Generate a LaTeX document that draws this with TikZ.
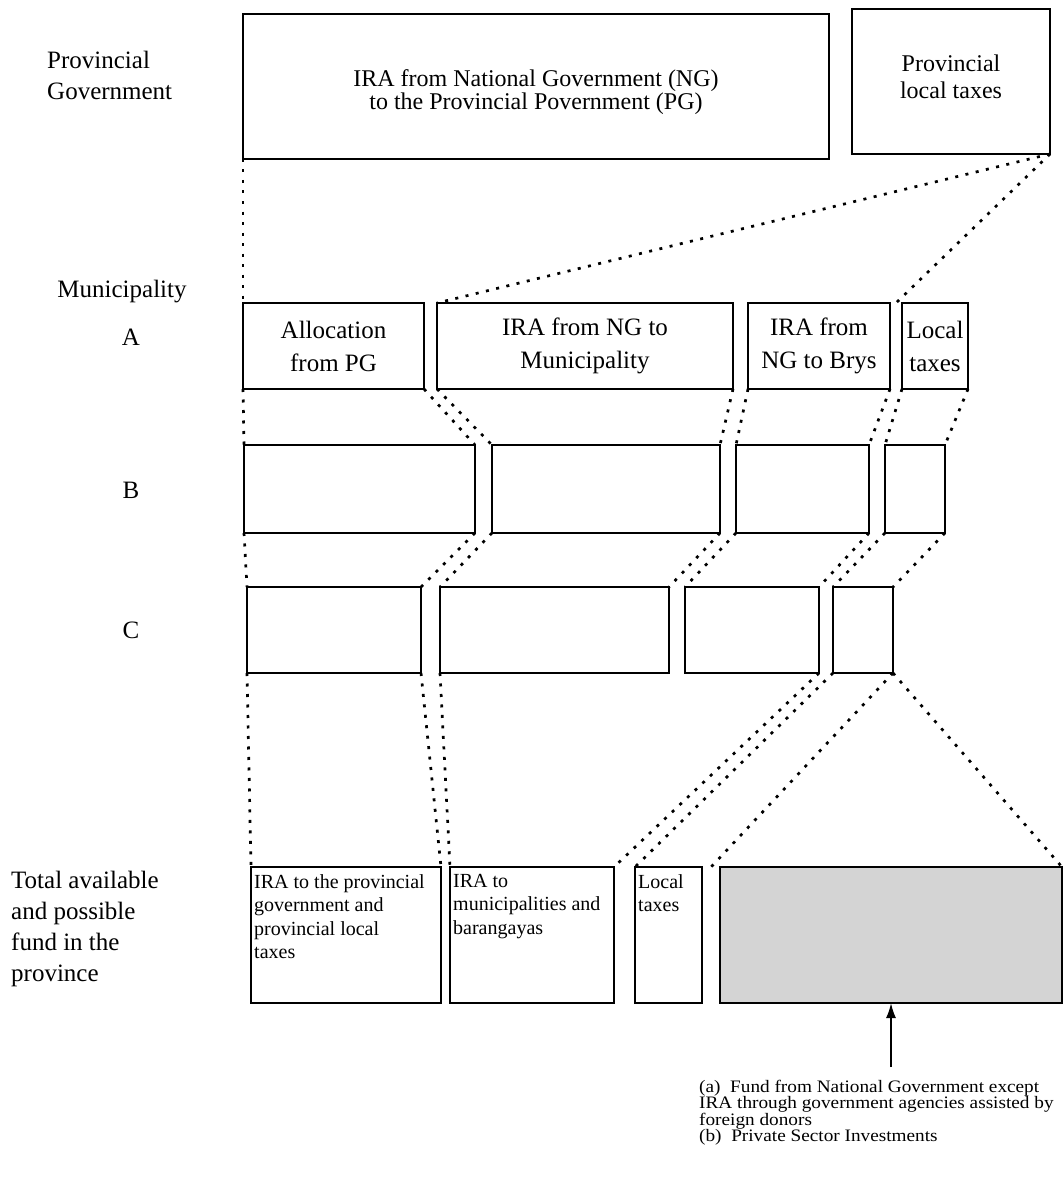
\documentclass[tikz,border=0pt]{standalone}
\usepackage{fontspec}
\setmainfont{Liberation Serif}
\newfontfamily\notefont{Liberation Serif}[FakeStretch=1.1]
\usepackage{tikz}
\usetikzlibrary{positioning, calc, arrows.meta}
\tikzset{
    fundbox/.style={rectangle, draw=black, line width=1.9pt, outer sep=0pt, inner sep=0pt, align=center, font=\fontsize{25}{33}\selectfont},
    topbox/.style={fundbox, font=\fontsize{24}{23}\selectfont},
    totalbox/.style={fundbox, minimum height=136pt},
    totaltext/.style={anchor=north west, align=left, inner sep=0pt, xshift=3pt, yshift=-7pt, font=\fontsize{20}{23.5}\selectfont},
    rowlabel/.style={inner sep=0pt, align=left, font=\fontsize{25}{31}\selectfont},
    link/.style={line width=2.7pt, dash pattern=on 3pt off 7.5pt},
    arrow/.style={line width=1.8pt, -{Latex[length=15pt, width=10pt]}}
}

\begin{document}
\begin{tikzpicture}[x=1pt, y=-1pt]
    \path[use as bounding box] (0,0) rectangle (1064,1185);

    \node (lblpg) [rowlabel, anchor=west] at (47,75) {Provincial\\Government};
    \node (lblmun) [rowlabel] at (122,292) {Municipality};
    \node (lbla) [rowlabel] at (131,337) {A};
    \node (lblb) [rowlabel] at (131,490) {B};
    \node (lblc) [rowlabel] at (131,630) {C};
    \node (lbltot) [rowlabel, anchor=west] at (11,929) {Total available\\and possible\\fund in the\\province};

    \node (ng) [topbox, anchor=north west, minimum width=586pt, minimum height=145pt, text height=51pt] at (243,14) {IRA from National Government (NG)\\to the Provincial Povernment (PG)};
    \node (plt) [topbox, anchor=north west, minimum width=198pt, minimum height=145pt, font=\fontsize{24}{27}\selectfont, text depth=10pt] at (852,9) {Provincial\\local taxes};

    \node (a1) [fundbox, anchor=north west, minimum width=181pt, minimum height=86pt] at (243,303) {Allocation\\from PG};
    \node (a2) [fundbox, right=13pt of a1, minimum width=296pt, minimum height=86pt] {IRA from NG to\\Municipality};
    \node (a3) [fundbox, right=15pt of a2, minimum width=142pt, minimum height=86pt] {IRA from\\NG to Brys};
    \node (a4) [fundbox, right=12pt of a3, minimum width=66pt, minimum height=86pt] {Local\\taxes};

    \node (b1) [fundbox, anchor=north west, minimum width=231pt, minimum height=88pt] at (244,445) {};
    \node (b2) [fundbox, right=17pt of b1, minimum width=228pt, minimum height=88pt] {};
    \node (b3) [fundbox, right=16pt of b2, minimum width=133pt, minimum height=88pt] {};
    \node (b4) [fundbox, right=16pt of b3, minimum width=60pt, minimum height=88pt] {};

    \node (c1) [fundbox, anchor=north west, minimum width=174pt, minimum height=86pt] at (247,587) {};
    \node (c2) [fundbox, right=19pt of c1, minimum width=229pt, minimum height=86pt] {};
    \node (c3) [fundbox, right=16pt of c2, minimum width=134pt, minimum height=86pt] {};
    \node (c4) [fundbox, right=14pt of c3, minimum width=60pt, minimum height=86pt] {};

    \node (t1) [totalbox, anchor=north west, minimum width=190pt, label={[totaltext]north west:{IRA to the provincial\\government and\\provincial local\\taxes}}] at (251,867) {};
    \node (t2) [totalbox, right=9pt of t1, minimum width=164pt, label={[totaltext]north west:{IRA to\\municipalities and\\barangayas}}] {};
    \node (t3) [totalbox, right=21pt of t2, minimum width=67pt, label={[totaltext]north west:{Local\\taxes}}] {};
    \node (t4) [totalbox, right=18pt of t3, minimum width=342pt, fill=black!17] {};

    \node (note) [anchor=north west, align=left, inner sep=0pt, font=\notefont\fontsize{17.5}{16.3}\selectfont] at (699,1080) {(a)\ \ Fund from National Government except\\IRA through government agencies assisted by\\foreign donors\\(b)\ \ Private Sector Investments};
    \coordinate (tail) at (891,1067);
    \coordinate (gapa) at ($(a3.north east)!.5!(a4.north west)$);
    \coordinate (gapt) at ($(t3.north east)!.5!(t4.north west)$);

    \draw [link] (ng.south west) -- (a1.north west);
    \draw [link] (plt.south east) -- (a2.north west);
    \draw [link] (plt.south east) -- (gapa);

    \draw [link] (a1.south west) -- (b1.north west);
    \draw [link] (a1.south east) -- (b1.north east);
    \draw [link] (a2.south west) -- (b2.north west);
    \draw [link] (a2.south east) -- (b2.north east);
    \draw [link] (a3.south west) -- (b3.north west);
    \draw [link] (a3.south east) -- (b3.north east);
    \draw [link] (a4.south west) -- (b4.north west);
    \draw [link] (a4.south east) -- (b4.north east);

    \draw [link] (b1.south west) -- (c1.north west);
    \draw [link] (b1.south east) -- (c1.north east);
    \draw [link] (b2.south west) -- (c2.north west);
    \draw [link] (b2.south east) -- (c2.north east);
    \draw [link] (b3.south west) -- (c3.north west);
    \draw [link] (b3.south east) -- (c3.north east);
    \draw [link] (b4.south west) -- (c4.north west);
    \draw [link] (b4.south east) -- (c4.north east);

    \draw [link] (c1.south west) -- (t1.north west);
    \draw [link] (c1.south east) -- (t1.north east);
    \draw [link] (c2.south west) -- (t2.north west);
    \draw [link] (c3.south east) -- (t2.north east);
    \draw [link] (c4.south west) -- (t3.north west);
    \draw [link] (c4.south east) -- (gapt);
    \draw [link] (c4.south east) -- (t4.north east);

    \draw [arrow] (tail) -- (t4.south);
\end{tikzpicture}
\end{document}
